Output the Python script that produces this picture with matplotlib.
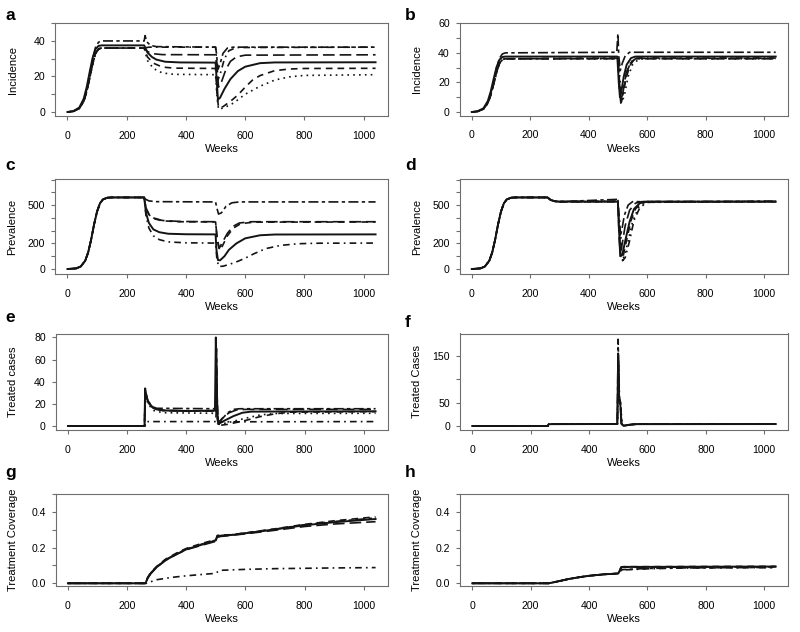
import numpy as np
import matplotlib
matplotlib.use("Agg")
import matplotlib.pyplot as plt

plt.rcParams['font.family'] = ['Liberation Sans', 'DejaVu Sans']

# ---- data: (week, value) pairs ----

# rises shared in shape, plateau values differ per scenario
inc_rise36 = [(0, 0), (20, 0.4), (40, 2), (55, 6), (65, 11.5), (75, 19), (85, 27), (95, 33), (105, 35.5), (115, 36)]
inc_rise37 = [(0, 0), (20, 0.5), (40, 2.5), (55, 7.5), (65, 14), (75, 22.5), (85, 30.5), (95, 35.5), (105, 37.2), (115, 37.5)]
inc_rise40 = [(0, 0), (20, 0.4), (40, 2.2), (55, 6.5), (65, 12.5), (75, 21), (85, 30), (95, 36.5), (105, 39.3), (115, 40)]
prev_rise = [(0, 0), (30, 5), (45, 20), (60, 65), (70, 130), (80, 230), (90, 350), (100, 450), (110, 515),
             (120, 545), (135, 558), (150, 560)]

# a: incidence
a_twodash = inc_rise40 + [(259, 40), (262, 43), (268, 39.5), (280, 37.5), (300, 36.8), (500, 36.5), (503, 33), (508, 24),
                          (515, 27), (525, 33), (540, 36), (560, 36.5), (1040, 36.5)]
a_dotdash = inc_rise36 + [(259, 36), (275, 36.5), (500, 36.5), (503, 30), (508, 18), (515, 21), (530, 30), (545, 34.5),
                          (570, 36.3), (1040, 36.5)]
a_longdash = inc_rise36 + [(259, 36), (270, 34), (290, 32.8), (320, 32.3), (500, 32.2), (505, 25), (510, 14), (520, 17),
                           (535, 24), (550, 28.5), (570, 31), (600, 32), (1040, 32.2)]
a_solid = inc_rise37 + [(259, 37.5), (270, 33.5), (285, 31), (300, 29.5), (330, 28.3), (380, 27.9), (500, 27.8), (503, 20),
                        (508, 7), (515, 8), (530, 13), (550, 18.5), (575, 23), (600, 25.5), (650, 27.5), (700, 27.9), (1040, 28)]
a_dashed = inc_rise36 + [(259, 36), (270, 31), (290, 27.5), (320, 25.3), (360, 24.7), (500, 24.5), (505, 10), (510, 2.5),
                         (525, 3), (550, 6), (575, 9.5), (600, 14), (625, 18), (650, 20.5), (700, 23.3), (750, 24.2),
                         (800, 24.5), (1040, 24.6)]
a_dotted = inc_rise36 + [(259, 36), (270, 29), (290, 24.5), (320, 22), (360, 21.2), (500, 21), (505, 8), (510, 1.5),
                         (530, 2.5), (560, 5), (600, 10), (650, 14.5), (700, 18), (750, 19.8), (800, 20.6), (1040, 21)]

# b: incidence
b_twodash = inc_rise40 + [(496, 40.4), (500, 53), (503, 38), (508, 28), (515, 33), (525, 38), (540, 40.4), (1040, 40.4)]
b_solid = inc_rise37 + [(498, 37.5), (503, 20), (507, 10), (512, 14), (520, 24), (530, 32), (545, 36.5), (560, 37.5), (1040, 37.5)]
b_dashed = inc_rise36 + [(500, 36.3), (505, 22), (510, 9), (517, 12), (527, 22), (540, 31), (555, 35.5), (575, 36.3), (1040, 36.3)]
b_dotted = inc_rise36 + [(502, 36), (508, 20), (515, 7), (523, 12), (535, 24), (550, 32), (570, 35.5), (590, 36), (1040, 36)]
b_dotdash = inc_rise36 + [(500, 36.5), (506, 18), (512, 7), (520, 15), (530, 27), (545, 34), (565, 36.5), (1040, 36.5)]
b_longdash = inc_rise36 + [(500, 36), (505, 16), (510, 6), (518, 14), (528, 26), (542, 33), (560, 36), (1040, 36)]

# c: prevalence
c_twodash = prev_rise + [(259, 560), (262, 548), (275, 533), (300, 527), (500, 525), (504, 480), (510, 430), (520, 440),
                         (535, 490), (555, 518), (580, 525), (1040, 525)]
c_longdash = prev_rise + [(259, 560), (265, 480), (275, 430), (290, 400), (320, 380), (380, 372), (500, 370), (505, 250),
                          (512, 160), (521, 200), (540, 280), (560, 335), (580, 360), (620, 370), (1040, 370)]
c_dashed = prev_rise + [(259, 560), (265, 475), (275, 425), (290, 395), (320, 377), (380, 370), (500, 368), (505, 240),
                        (513, 150), (523, 180), (540, 260), (560, 320), (585, 355), (630, 367), (1040, 368)]
c_solid = prev_rise + [(259, 560), (265, 440), (275, 360), (290, 310), (310, 288), (340, 276), (400, 272), (500, 271),
                       (503, 150), (508, 70), (515, 68), (530, 100), (545, 150), (570, 200), (600, 240), (650, 264),
                       (700, 270), (1040, 271)]
c_dotdash = prev_rise + [(259, 560), (265, 420), (275, 320), (290, 260), (310, 230), (340, 212), (400, 205), (500, 203),
                         (504, 90), (510, 20), (525, 22), (545, 35), (575, 60), (600, 85), (630, 120), (670, 160),
                         (720, 185), (780, 198), (850, 202), (1040, 203)]

# d: prevalence
d_drop = [(259, 560), (263, 553), (270, 540), (285, 530), (300, 527)]
d_solid = prev_rise + d_drop + [(500, 527), (503, 350), (508, 100), (515, 110), (525, 220), (540, 370), (555, 470),
                                (575, 515), (600, 527), (1040, 527)]
d_dashed = prev_rise + d_drop + [(500, 527), (505, 300), (510, 90), (518, 100), (530, 230), (545, 380), (560, 470),
                                 (580, 515), (600, 527), (1040, 527)]
d_dotted = prev_rise + d_drop + [(500, 528), (506, 350), (512, 80), (522, 95), (535, 220), (550, 370), (570, 480),
                                 (595, 522), (1040, 528)]
d_dotdash = prev_rise + d_drop + [(500, 530), (510, 250), (516, 65), (525, 90), (540, 220), (555, 380), (575, 480),
                                  (600, 522), (1040, 530)]
d_longdash = prev_rise + d_drop + [(500, 530), (504, 250), (508, 130), (515, 200), (525, 340), (540, 460), (560, 515),
                                   (580, 527), (1040, 528)]
d_twodash = prev_rise + d_drop + [(497, 545), (500, 555), (503, 380), (507, 250), (513, 300), (522, 420), (535, 500),
                                  (550, 527), (1040, 530)]

# e: treated cases
e_solid = [(0, 0), (259, 0), (261, 34), (265, 27), (272, 21), (285, 17), (300, 15), (330, 14), (400, 13.5), (497, 14),
           (500, 80), (503, 40), (506, 5), (510, 2), (530, 5), (560, 9), (590, 12), (620, 13), (1040, 13.3)]
e_twodash = [(0, 0), (259, 0), (261, 30), (270, 22), (285, 17.5), (300, 16), (500, 15.6), (502, 70), (505, 20), (508, 2),
             (520, 6), (540, 12), (560, 15), (580, 15.6), (1040, 15.6)]
e_dotted = [(0, 0), (259, 0), (261, 32), (270, 20), (290, 14), (320, 12), (500, 11.5), (501, 60), (505, 10), (510, 1.5),
            (540, 3), (600, 7), (650, 10), (700, 11.3), (1040, 11.5)]
e_dashed = [(0, 0), (259, 0), (261, 33), (270, 22), (290, 16), (320, 14), (500, 13.5), (501, 75), (505, 15), (510, 0.5),
            (540, 1.5), (600, 5), (650, 8.5), (700, 11), (750, 12.5), (1040, 13)]
e_longdash = [(0, 0), (259, 0), (261, 33), (270, 23), (290, 16), (320, 14), (500, 13.5), (501, 72), (505, 12), (509, 3),
              (525, 8), (545, 12), (570, 14.5), (600, 15), (1040, 15)]
e_dotdash = [(0, 0), (260, 0), (262, 4), (500, 4), (502, 20), (506, 2), (515, 3.8), (1040, 4)]

# f: treated cases
f_twodash = [(0, 0), (259, 0), (262, 4), (497, 4.3), (500, 185), (503, 60), (507, 50), (511, 5), (518, 0.5), (540, 3),
             (560, 4), (1040, 4.2)]
f_solid = [(0, 0), (259, 0), (262, 4), (497, 4.3), (500, 155), (503, 60), (507, 52), (511, 5), (518, 0.5), (540, 3),
           (560, 4), (1040, 4.2)]
f_dashed = [(0, 0), (259, 0), (262, 4), (497, 4.3), (501, 140), (504, 58), (508, 50), (512, 4), (520, 0.5), (545, 3),
            (565, 4), (1040, 4.2)]
f_dotted = [(0, 0), (259, 0), (262, 4), (498, 4.3), (502, 120), (505, 55), (509, 48), (513, 4), (522, 0.5), (548, 3),
            (570, 4), (1040, 4.2)]
f_longdash = [(0, 0), (259, 0), (262, 4), (497, 4.3), (501, 130), (504, 55), (508, 45), (512, 4), (520, 0.5), (545, 3),
              (565, 4), (1040, 4.2)]

# g: treatment coverage
g_solid = [(0, 0), (262, 0), (270, 0.03), (280, 0.055), (300, 0.09), (330, 0.13), (370, 0.165), (400, 0.19),
           (450, 0.215), (500, 0.24), (505, 0.262), (515, 0.265), (550, 0.27), (600, 0.28), (700, 0.302),
           (800, 0.325), (900, 0.342), (1040, 0.36)]
g_dashed = [(0, 0), (262, 0), (270, 0.035), (280, 0.06), (300, 0.095), (330, 0.135), (370, 0.172), (400, 0.195),
            (450, 0.222), (500, 0.245), (505, 0.268), (515, 0.27), (550, 0.272), (600, 0.282), (700, 0.305),
            (800, 0.33), (900, 0.35), (1040, 0.372)]
g_longdash = [(0, 0), (262, 0), (270, 0.03), (280, 0.055), (300, 0.09), (330, 0.128), (370, 0.165), (400, 0.188),
              (450, 0.212), (500, 0.235), (505, 0.258), (515, 0.262), (550, 0.268), (600, 0.277), (700, 0.297),
              (800, 0.318), (900, 0.332), (1040, 0.345)]
g_twodash = [(0, 0), (262, 0), (270, 0.032), (280, 0.058), (300, 0.092), (330, 0.132), (370, 0.168), (400, 0.192),
             (450, 0.218), (500, 0.242), (505, 0.265), (515, 0.267), (550, 0.271), (600, 0.281), (700, 0.303),
             (800, 0.328), (900, 0.346), (1040, 0.366)]
g_dotdash = [(0, 0), (265, 0), (300, 0.02), (350, 0.033), (400, 0.042), (450, 0.049), (500, 0.056), (510, 0.07),
             (520, 0.073), (600, 0.078), (700, 0.082), (800, 0.084), (900, 0.086), (1040, 0.088)]

# h: treatment coverage
h_solid = [(0, 0), (262, 0), (280, 0.006), (300, 0.013), (330, 0.024), (370, 0.035), (400, 0.042), (450, 0.05),
           (500, 0.055), (505, 0.07), (510, 0.09), (520, 0.092), (600, 0.092), (1040, 0.094)]
h_dashed = [(0, 0), (262, 0), (280, 0.006), (300, 0.013), (330, 0.024), (370, 0.035), (400, 0.042), (450, 0.05),
            (500, 0.055), (506, 0.075), (512, 0.092), (520, 0.093), (600, 0.093), (1040, 0.095)]
h_longdash = [(0, 0), (262, 0), (280, 0.006), (300, 0.013), (330, 0.024), (370, 0.035), (400, 0.042), (450, 0.05),
              (500, 0.055), (505, 0.07), (510, 0.088), (520, 0.09), (600, 0.09), (1040, 0.092)]
h_dotdash = [(0, 0), (262, 0), (280, 0.006), (300, 0.013), (330, 0.024), (370, 0.035), (400, 0.042), (450, 0.05),
             (500, 0.055), (510, 0.072), (520, 0.075), (600, 0.081), (700, 0.085), (1040, 0.088)]
h_twodash = [(0, 0), (262, 0), (280, 0.006), (300, 0.013), (330, 0.024), (370, 0.035), (400, 0.042), (450, 0.05),
             (500, 0.055), (508, 0.074), (520, 0.077), (600, 0.083), (700, 0.086), (1040, 0.089)]

x_ticks = [0, 200, 400, 600, 800, 1000]

# R-like line types
LTY = {
    'solid': '-',
    'dashed': (0, (4, 3)),
    'dotted': (0, (1, 2.5)),
    'dotdash': (0, (1, 2.5, 4, 2.5)),
    'longdash': (0, (7, 3)),
    'twodash': (0, (2, 2, 6, 2)),
}

panels = [
    # letter, ylabel, curves, ylim, ticks, labelled ticks, box (px: left, top, right, bottom), letter pos
    ('a', 'Incidence',
     [('dotted', a_dotted), ('dashed', a_dashed), ('longdash', a_longdash), ('dotdash', a_dotdash),
      ('twodash', a_twodash), ('solid', a_solid)],
     (-2.25, 50.1), [0, 10, 20, 30, 40, 50], [0, 20, 40], (55, 23, 388, 116), (5, 19.5)),
    ('b', 'Incidence',
     [('dotted', b_dotted), ('dashed', b_dashed), ('longdash', b_longdash), ('dotdash', b_dotdash),
      ('twodash', b_twodash), ('solid', b_solid)],
     (-2.5, 60.2), [0, 10, 20, 30, 40, 50, 60], [0, 20, 40, 60], (459.5, 23, 788, 115.7), (405, 19.5)),
    ('c', 'Prevalence',
     [('dashed', c_dashed), ('longdash', c_longdash), ('dotdash', c_dotdash), ('twodash', c_twodash),
      ('solid', c_solid)],
     (-39, 702), [0, 100, 200, 300, 400, 500, 600, 700], [0, 200, 500], (55, 179.3, 388, 274), (5, 169.5)),
    ('d', 'Prevalence',
     [('dotted', d_dotted), ('dashed', d_dashed), ('longdash', d_longdash), ('dotdash', d_dotdash),
      ('twodash', d_twodash), ('solid', d_solid)],
     (-39, 702), [0, 100, 200, 300, 400, 500, 600, 700], [0, 200, 500], (459.5, 179.3, 788, 274), (405, 169.5)),
    ('e', 'Treated cases',
     [('dotted', e_dotted), ('dashed', e_dashed), ('longdash', e_longdash), ('dotdash', e_dotdash),
      ('twodash', e_twodash), ('solid', e_solid)],
     (-3.6, 83.1), [0, 20, 40, 60, 80], [0, 20, 40, 60, 80], (55.5, 334, 388, 430), (5, 322)),
    ('f', 'Treated Cases',
     [('dotted', f_dotted), ('dashed', f_dashed), ('longdash', f_longdash), ('twodash', f_twodash),
      ('solid', f_solid)],
     (-8.5, 197.4), [0, 50, 100, 150], [0, 50, 150], (460, 333.5, 788, 430), (405, 327)),
    ('g', 'Treatment Coverage',
     [('dashed', g_dashed), ('longdash', g_longdash), ('dotdash', g_dotdash), ('twodash', g_twodash),
      ('solid', g_solid)],
     (-0.0151, 0.499), [0, 0.1, 0.2, 0.3, 0.4, 0.5], [0, 0.2, 0.4], (55.5, 494, 388, 586), (5, 477)),
    ('h', 'Treatment Coverage',
     [('dashed', h_dashed), ('longdash', h_longdash), ('dotdash', h_dotdash), ('twodash', h_twodash),
      ('solid', h_solid)],
     (-0.0151, 0.499), [0, 0.1, 0.2, 0.3, 0.4, 0.5], [0, 0.2, 0.4], (460, 494, 788, 586), (405, 477)),
]

W, H = 800, 632
fig = plt.figure(figsize=(W / 100, H / 100), dpi=100)
box_col = '#6e6e6e'

for letter, ylabel, curves, ylim, yt, ylab, box, lpos in panels:
    x0, y0, x1, y1 = box
    ax = fig.add_axes([x0 / W, 1 - y1 / H, (x1 - x0) / W, (y1 - y0) / H])
    for lty, pts in curves:
        wk = [p[0] for p in pts]
        val = [p[1] for p in pts]
        ax.plot(wk, val, color='#141414', lw=1.4 if lty == 'solid' else 1.2, linestyle=LTY[lty])
    ax.set_xlim(-42, 1082)
    ax.set_ylim(*ylim)
    ax.set_xticks(x_ticks)
    ax.set_yticks(yt)
    if isinstance(yt[1], float):
        ax.set_yticklabels(['%.1f' % t if any(abs(t - l) < 1e-9 for l in ylab) else '' for t in yt])
    else:
        ax.set_yticklabels([str(t) if t in ylab else '' for t in yt])
    for s in ax.spines.values():
        s.set_color(box_col)
        s.set_linewidth(0.8)
    ax.tick_params(direction='out', length=2.6, width=0.8, color=box_col, labelsize=7.6, labelcolor='black')
    ax.tick_params(axis='x', pad=8)
    ax.tick_params(axis='y', pad=4.5)
    ax.set_xlabel('Weeks', fontsize=8)
    ax.xaxis.set_label_coords(0.5, -28.0 / (y1 - y0))
    ax.set_ylabel(ylabel, fontsize=8)
    ax.yaxis.set_label_coords(-37.5 / (x1 - x0), 0.5)
    fig.text(lpos[0] / W, 1 - lpos[1] / H, letter, fontsize=12.5, fontweight='bold', va='baseline', ha='left')

fig.savefig('out.png', dpi=100)
